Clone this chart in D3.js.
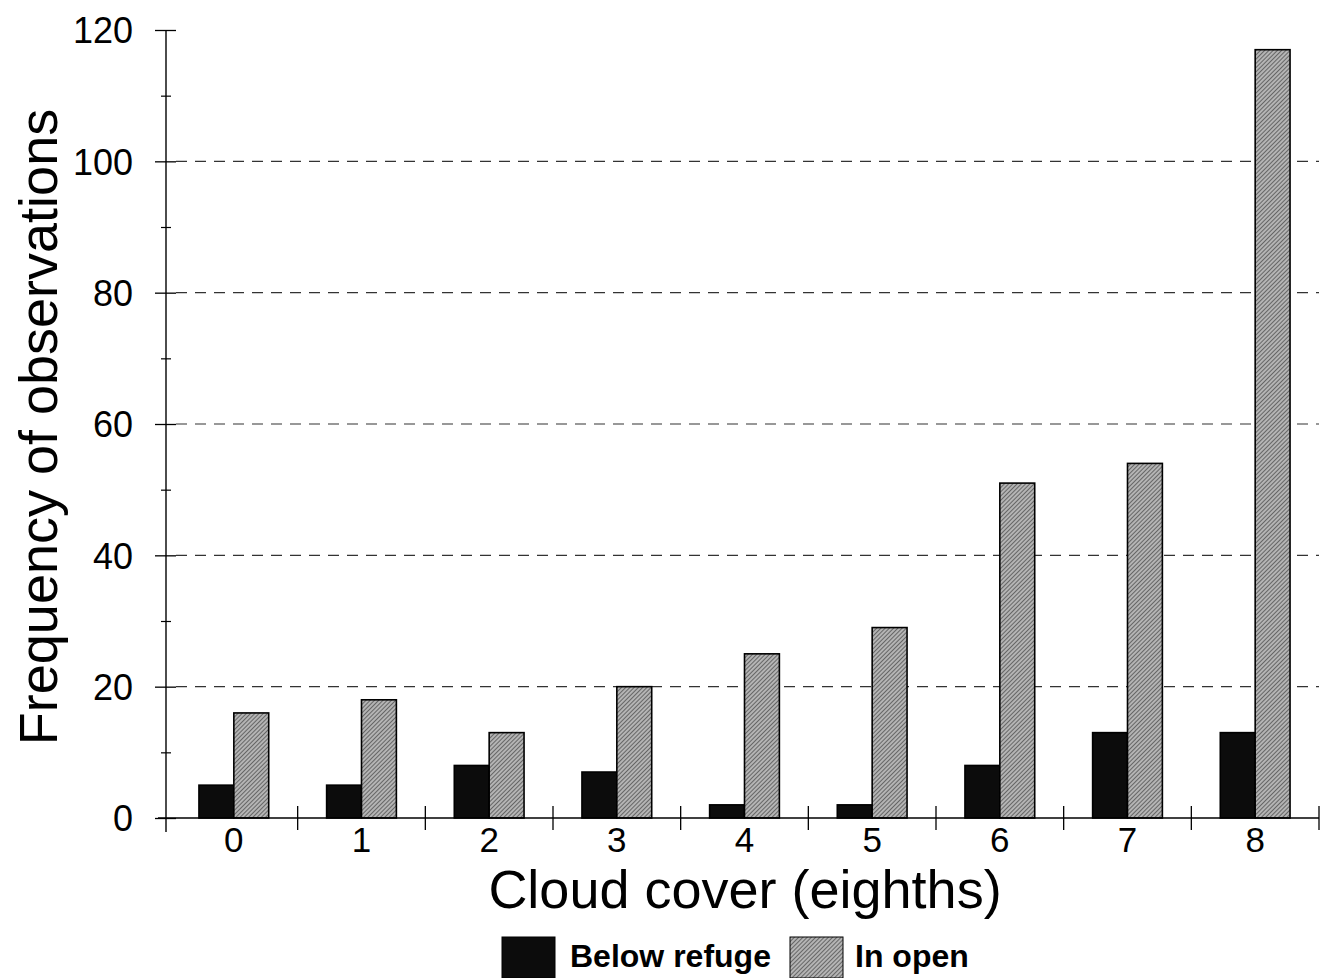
<!DOCTYPE html>
<html>
<head>
<meta charset="utf-8">
<script src="https://cdn.jsdelivr.net/npm/d3@7/dist/d3.min.js"></script>
<style>
  html, body { margin: 0; padding: 0; background: #fff; }
  svg { display: block; font-family: "Liberation Sans", Arial, Helvetica, sans-serif; }
</style>
</head>
<body>
<svg id="chart" width="1330" height="978"></svg>
<script>
// ---- data ----
const categories = ["0", "1", "2", "3", "4", "5", "6", "7", "8"];
const seriesNames = ["Below refuge", "In open"];
const belowRefuge = [5, 5, 8, 7, 2, 2, 8, 13, 13];
const inOpen = [16, 18, 13, 20, 25, 29, 51, 54, 117];
const yMajorTicks = [0, 20, 40, 60, 80, 100, 120];
const yMinorTicks = [10, 30, 50, 70, 90, 110];
const gridValues = [20, 40, 60, 80, 100];
const xTitle = "Cloud cover (eighths)";
const yTitle = "Frequency of observations";

// ---- layout ----
const svg = d3.select("#chart");
const axisX = 166, baseY = 818, topY = 30, rightX = 1319;

const x0 = d3.scaleBand().domain(categories).range([170, rightX]).paddingInner(0).paddingOuter(0);
const x1 = d3.scaleBand().domain(seriesNames).range([0, x0.bandwidth()]).paddingInner(0).paddingOuter(0.83);
const y = d3.scaleLinear().domain([0, 120]).range([baseY, topY]);

const defs = svg.append("defs");
const pat = defs.append("pattern").attr("id", "hatch").attr("patternUnits", "userSpaceOnUse")
  .attr("width", 3).attr("height", 3).attr("patternTransform", "rotate(45)");
pat.append("rect").attr("width", 3).attr("height", 3).attr("fill", "#b4b4b4");
pat.append("line").attr("x1", 0).attr("y1", 0).attr("x2", 0).attr("y2", 3)
  .attr("stroke", "#3c3c3c").attr("stroke-width", 1.3);

const colors = { "Below refuge": "#0c0c0c", "In open": "url(#hatch)" };

// gridlines
svg.append("g").selectAll("line").data(gridValues).join("line")
  .attr("x1", axisX + 10).attr("x2", rightX)
  .attr("y1", d => y(d)).attr("y2", d => y(d))
  .attr("stroke", "#333").attr("stroke-width", 1.2).attr("stroke-dasharray", "11,8");

// bars
const rows = categories.map((c, i) => ({ cat: c, vals: [
  { key: seriesNames[0], v: belowRefuge[i] },
  { key: seriesNames[1], v: inOpen[i] }
]}));
const gBars = svg.append("g");
gBars.selectAll("g").data(rows).join("g")
  .attr("transform", d => `translate(${x0(d.cat)},0)`)
  .selectAll("rect").data(d => d.vals).join("rect")
  .attr("x", d => x1(d.key)).attr("width", x1.bandwidth())
  .attr("y", d => y(d.v)).attr("height", d => baseY - y(d.v))
  .attr("fill", d => colors[d.key]).attr("stroke", "#000").attr("stroke-width", 1.6);

// y axis
const yAxis = svg.append("g").attr("transform", `translate(${axisX},0)`)
  .call(d3.axisLeft(y).tickValues(yMajorTicks).tickFormat(d3.format("d")).tickSize(11).tickPadding(22));
yAxis.select(".domain").remove();
yAxis.selectAll(".tick line").attr("x1", -11).attr("x2", 10).attr("stroke", "#000").attr("stroke-width", 1.3);
yAxis.selectAll(".tick text").attr("font-size", 36).attr("fill", "#000")
  .attr("font-family", "'Liberation Sans', Arial, sans-serif").attr("dy", "0.36em");
const yMinor = svg.append("g").attr("transform", `translate(${axisX},0)`)
  .call(d3.axisLeft(y).tickValues(yMinorTicks).tickFormat("").tickSize(5));
yMinor.select(".domain").remove();
yMinor.selectAll(".tick line").attr("x1", -5).attr("x2", 5).attr("stroke", "#000").attr("stroke-width", 1.2);
svg.append("line").attr("x1", axisX).attr("x2", axisX).attr("y1", topY).attr("y2", baseY + 14)
  .attr("stroke", "#000").attr("stroke-width", 1.4);

// x axis
const xAxis = svg.append("g").attr("transform", `translate(0,${baseY})`)
  .call(d3.axisBottom(x0).tickSize(0).tickPadding(9));
xAxis.select(".domain").remove();
xAxis.selectAll(".tick text").attr("font-size", 35).attr("fill", "#000")
  .attr("font-family", "'Liberation Sans', Arial, sans-serif").attr("dy", "0.7em");
svg.append("line").attr("x1", axisX - 8).attr("x2", rightX).attr("y1", baseY).attr("y2", baseY)
  .attr("stroke", "#000").attr("stroke-width", 1.4);
svg.append("g").selectAll("line").data(categories).join("line")
  .attr("x1", d => x0(d) + x0.bandwidth()).attr("x2", d => x0(d) + x0.bandwidth())
  .attr("y1", baseY - 12).attr("y2", baseY + 12)
  .attr("stroke", "#000").attr("stroke-width", 1.3);

// titles
svg.append("text").attr("x", 745).attr("y", 908).attr("text-anchor", "middle")
  .attr("font-size", 54).attr("fill", "#000").text(xTitle);
svg.append("text").attr("transform", "translate(57,427) rotate(-90)").attr("text-anchor", "middle")
  .attr("font-size", 54).attr("fill", "#000").text(yTitle);

// legend
const legend = svg.append("g");
const legendItems = [
  { key: seriesNames[0], sx: 502, tx: 570 },
  { key: seriesNames[1], sx: 790, tx: 855 }
];
legendItems.forEach(it => {
  legend.append("rect").attr("x", it.sx).attr("y", 937).attr("width", 53).attr("height", 41)
    .attr("fill", colors[it.key]).attr("stroke", "#000").attr("stroke-width", 1);
  legend.append("text").attr("x", it.tx).attr("y", 967).attr("font-size", 32).attr("font-weight", "bold")
    .attr("fill", "#000").text(it.key);
});
</script>
</body>
</html>
